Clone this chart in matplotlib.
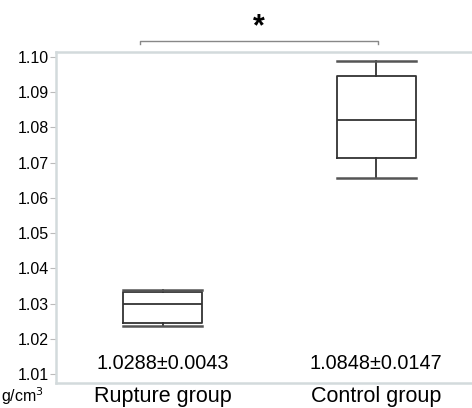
import matplotlib.pyplot as plt

plt.rcParams['font.family'] = ['Liberation Sans', 'DejaVu Sans']

# Datos
grupos = ['Rupture group', 'Control group']
bigote_inf = [1.0237, 1.0656]
q1 = [1.0246, 1.0713]
mediana = [1.0299, 1.0822]
q3 = [1.0334, 1.0947]
bigote_sup = [1.0339, 1.0989]
resumen = ['1.0288±0.0043', '1.0848±0.0147']
yticks = [1.01, 1.02, 1.03, 1.04, 1.05, 1.06, 1.07, 1.08, 1.09, 1.10]

stats = []
for i in range(len(grupos)):
    stats.append({'whislo': bigote_inf[i], 'q1': q1[i], 'med': mediana[i],
                  'q3': q3[i], 'whishi': bigote_sup[i], 'fliers': []})

fig = plt.figure(figsize=(4.72, 4.08), dpi=100)
ax = fig.add_axes([56/472, 1 - 383/408, 1 - 56/472 + 0.002, (383 - 52)/408])

linea = dict(color='#333333', linewidth=1.3)
ax.bxp(stats, positions=[0, 1], widths=0.37, capwidths=0.37, showfliers=False,
       boxprops=linea, medianprops=linea, whiskerprops=linea,
       capprops=dict(color='#555555', linewidth=1.8))

ax.set_xlim(-0.5, 1.453)
ax.set_ylim(1.0075, 1.1014)
ax.set_yticks(yticks)
ax.set_yticklabels(['{:.2f}'.format(v) for v in yticks])
ax.set_xticks([])
ax.tick_params(axis='y', length=4, width=0.8, color='#bbbbbb', labelsize=11.5,
               labelcolor='black', pad=1)

for lado in ['left', 'top', 'bottom', 'right']:
    ax.spines[lado].set_color('#d3dadc')
    ax.spines[lado].set_linewidth(1.8)

# Etiquetas de grupo y resumen
for i, g in enumerate(grupos):
    ax.text(i, -0.04, g, transform=ax.get_xaxis_transform(), ha='center',
            va='center', fontsize=15.5)
    ax.text(i, 1.0129, resumen[i], ha='center', va='center', fontsize=14.3)

fig.text(1/472, 1 - 396/408, 'g/cm$^3$', fontsize=11.5, ha='left', va='center')

# Corchete de significancia
x0, x1 = -0.106, 1.007
yb, yt = 1.1037, 1.1045
ax.plot([x0, x0, x1, x1], [yb, yt, yt, yb], color='#888888', linewidth=1,
        clip_on=False)
ax.text((x0 + x1) / 2, 1.1085, '*', ha='center', va='center', fontsize=22,
        fontweight='bold')

fig.savefig('out.png', dpi=100)
